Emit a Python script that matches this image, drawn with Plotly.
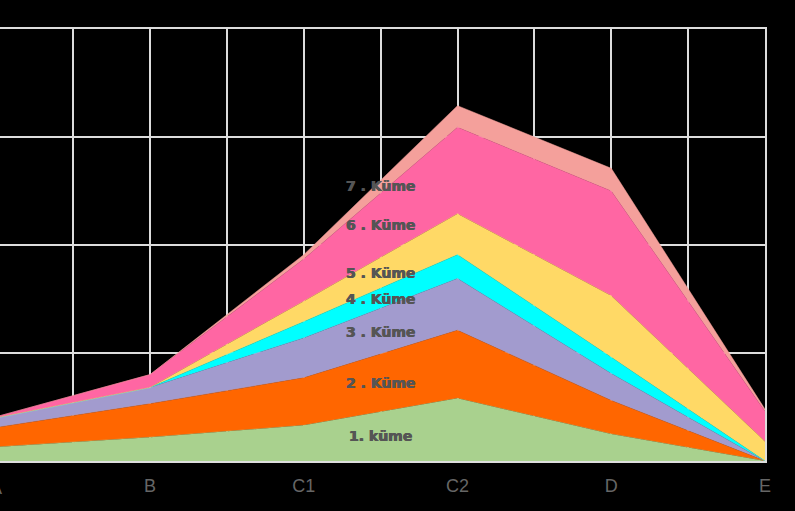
import plotly.graph_objects as go

categories = ["A", "B", "C1", "C2", "D", "E"]
kume1 = [1.3, 2.2, 3.3, 5.8, 2.5, 0.0]
kume2 = [1.8, 3.1, 4.4, 6.3, 3.1, 0.0]
kume3 = [0.9, 1.5, 3.7, 4.8, 2.5, 0.0]
kume4 = [0.0, 0.0, 1.5, 2.2, 1.5, 0.0]
kume5 = [0.0, 0.0, 1.9, 3.8, 5.7, 1.8]
kume6 = [0.1, 1.2, 3.9, 8.0, 9.7, 2.8]
kume7 = [0.0, 0.0, 0.4, 2.0, 2.1, 0.2]

series_names = ["1. küme", "2 . Küme", "3 . Küme", "4 . Küme", "5 . Küme", "6 . Küme", "7 . Küme"]
series_values = [kume1, kume2, kume3, kume4, kume5, kume6, kume7]
colors = ["#A9D18E", "#FF6600", "#A29BCE", "#00FFFF", "#FFD966", "#FF66A3", "#F4A09B"]
label_y = [2.3, 7.2, 11.9, 15.0, 17.4, 21.85, 25.45]

xpos = list(range(len(categories)))
x_lo, x_hi = 0.0244, 5

fig = go.Figure()
for name, vals, col in zip(series_names, series_values, colors):
    fig.add_trace(go.Scatter(
        x=xpos, y=vals, name=name, mode="lines", stackgroup="one",
        line=dict(width=0.5, color=col), fillcolor=col, hoverinfo="skip"))

for name, ly in zip(series_names, label_y):
    fig.add_annotation(x=2.5, y=ly, xref="x", yref="y", text=name, showarrow=False,
                       font=dict(family="DejaVu Sans", size=14, color="#555555", weight="bold",
                                 shadow="0.4px 0 0 #555555, -0.4px 0 0 #555555"))

# partially visible first category label at the left edge
fig.add_annotation(x=(xpos[0] - x_lo) / (x_hi - x_lo), y=0, xref="paper", yref="paper",
                   xanchor="center", yanchor="top", yshift=-15,
                   text=categories[0], showarrow=False,
                   font=dict(family="Liberation Sans", size=18, color="#666666"))

grid_col = "#DDDDDD"
fig.update_layout(
    width=795, height=511,
    paper_bgcolor="black", plot_bgcolor="black",
    margin=dict(l=0, r=30, t=29, b=50),
    showlegend=False,
    xaxis=dict(range=[x_lo, x_hi], tickvals=xpos, ticktext=categories,
               showgrid=True, gridcolor=grid_col, gridwidth=2,
               minor=dict(tick0=0, dtick=0.5, showgrid=True, gridcolor=grid_col, gridwidth=2),
               showline=True, linecolor=grid_col, linewidth=2, mirror=True,
               zeroline=False, ticks="", ticklabelstandoff=7,
               tickfont=dict(family="Liberation Sans", size=18, color="#666666")),
    yaxis=dict(range=[0, 40], dtick=10, showgrid=True, gridcolor=grid_col, gridwidth=2,
               side="right", showline=True, linecolor=grid_col, linewidth=2,
               showticklabels=False, zeroline=False, ticks=""),
)

fig.write_html("out.html", config={"displayModeBar": False},
               post_script="document.body.style.margin='0';document.body.style.background='black';")
